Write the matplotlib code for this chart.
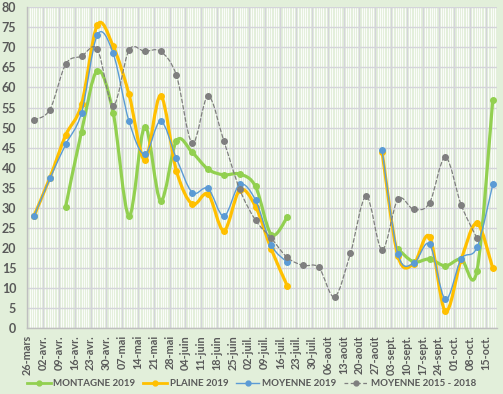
import numpy as np
import matplotlib
matplotlib.use('Agg')
import matplotlib.pyplot as plt
import matplotlib.dates as mdates
from matplotlib.path import Path
from matplotlib.patches import PathPatch
from matplotlib.lines import Line2D

plt.rcParams['font.family'] = ['Lato', 'DejaVu Sans']

# ---------------- data ----------------
tick_labels = ['26-mars', '02-avr.', '09-avr.', '16-avr.', '23-avr.', '30-avr.', '07-mai', '14-mai',
               '21-mai', '28-mai', '04-juin', '11-juin', '18-juin', '25-juin', '02-juil.', '09-juil.',
               '16-juil.', '23-juil.', '30-juil.', '06-août', '13-août', '20-août', '27-août',
               '03-sept.', '10-sept.', '17-sept.', '24-sept.', '01-oct.', '08-oct.', '15-oct.']
first_tick = '2019-03-26'
point_offset_days = 3

montagne = [None, None, 30.3, 49.0, 64.2, 53.7, 28.0, 50.2, 31.8, 46.7, 43.8, 39.6, 38.2, 38.4, 35.3,
            23.3, 27.6, None, None, None, None, None, None, 19.7, 16.5, 17.2, 15.5, 17.2, 14.3, 56.9]
plaine = [28.0, 37.5, 48.1, 55.8, 75.6, 70.3, 58.3, 41.9, 57.9, 39.2, 30.9, 33.4, 24.3, 34.4, 30.3,
          19.6, 10.6, None, None, None, None, None, 44.0, 18.0, 16.0, 22.8, 4.2, 17.0, 26.1, 14.9]
moyenne = [27.9, 37.3, 45.8, 53.7, 73.1, 68.5, 51.6, 43.3, 51.6, 42.3, 33.8, 34.8, 27.9, 35.8, 31.9,
           20.7, 16.4, None, None, None, None, None, 44.4, 18.5, 16.1, 20.9, 7.2, 17.2, 20.1, 35.8]
moyenne_1518 = [51.9, 54.5, 65.8, 67.8, 69.5, 55.5, 69.3, 69.0, 69.0, 63.0, 46.1, 57.8, 46.6, 34.6, 26.9,
                22.4, 17.6, 15.6, 15.1, 7.8, 18.6, 32.9, 19.5, 32.1, 29.6, 31.2, 42.6, 30.7, 22.4, None]

series = [
    ('MONTAGNE 2019', montagne, '#92D050', 2.3, '-'),
    ('PLAINE 2019', plaine, '#FFC000', 2.3, '-'),
    ('MOYENNE 2019', moyenne, '#5B9BD5', 1.0, '-'),
    ('MOYENNE 2015 - 2018', moyenne_1518, '#7F7F7F', 0.9, (0, (3, 2))),
]

# ---------------- figure ----------------
BG = '#E2EFDA'
TXT = '#595959'
fig = plt.figure(figsize=(5.03, 3.94), dpi=100, facecolor=BG)
ax = fig.add_axes([27.3 / 503, 1 - 328 / 394, (497.3 - 27.3) / 503, (328 - 7.3) / 394])
ax.set_facecolor(BG)

tick_dates = np.datetime64(first_tick) + np.arange(len(tick_labels)) * np.timedelta64(7, 'D')
point_dates = tick_dates + np.timedelta64(point_offset_days, 'D')
tx = mdates.date2num(tick_dates.astype('datetime64[D]').astype(object))
px = mdates.date2num(point_dates.astype('datetime64[D]').astype(object))

x0 = tx[0]
x1 = tx[-1] + 5
ax.set_xlim(x0, x1)
ax.set_ylim(0, 80)

# grid
ax.set_xticks(tx)
ax.set_xticks(np.arange(x0, x1 + 0.01, 1.0), minor=True)
ax.set_yticks(np.arange(0, 81, 5))
ax.grid(which='minor', axis='x', color='white', lw=0.8, alpha=0.85, zorder=0)
ax.grid(which='major', axis='x', color='#D4D4DA', lw=1.0, zorder=0.5)
ax.grid(which='major', axis='y', color='#D4D4DA', lw=1.0, zorder=0.5)
ax.set_axisbelow(True)

ax.set_xticklabels(tick_labels, rotation=90, fontsize=7.8, color=TXT, fontweight='bold')
ax.set_yticklabels([str(v) for v in range(0, 81, 5)], fontsize=9, color=TXT, fontweight='bold')
ax.tick_params(axis='both', which='both', length=0)
ax.tick_params(axis='x', pad=5)
ax.tick_params(axis='y', pad=8)
for s in ['top', 'right']:
    ax.spines[s].set_visible(False)
for s in ['left', 'bottom']:
    ax.spines[s].set_color('#BFBFBF')
    ax.spines[s].set_linewidth(1.0)


def smooth_path(xs, ys):
    pts = np.column_stack([xs, ys])
    n = len(pts)
    verts = [pts[0]]
    codes = [Path.MOVETO]
    for i in range(n - 1):
        p0 = pts[i - 1] if i > 0 else pts[i]
        p1 = pts[i]
        p2 = pts[i + 1]
        p3 = pts[i + 2] if i + 2 < n else pts[i + 1]
        c1 = p1 + (p2 - p0) / 6.0
        c2 = p2 - (p3 - p1) / 6.0
        verts += [c1, c2, p2]
        codes += [Path.CURVE4] * 3
    return Path(verts, codes)


handles = []
for z, (name, vals, color, lw, ls) in enumerate(series):
    segs = []
    cur = []
    for xi, v in zip(px, vals):
        if v is None:
            if cur:
                segs.append(cur)
            cur = []
        else:
            cur.append((xi, v))
    if cur:
        segs.append(cur)
    for seg in segs:
        xs = np.array([p[0] for p in seg])
        ys = np.array([p[1] for p in seg])
        if len(seg) > 1:
            patch = PathPatch(smooth_path(xs, ys), fill=False, edgecolor=color, lw=lw,
                              linestyle=ls, zorder=2 + z, capstyle='round', joinstyle='round')
            ax.add_patch(patch)
        ax.plot(xs, ys, linestyle='none', marker='o', ms=4, color=color, zorder=2.5 + z)
    handles.append(Line2D([], [], color=color, lw=lw if lw < 2 else 2.0, linestyle=ls,
                          marker='o', ms=3.5, label=name))

leg = fig.legend(handles=handles, loc='center', bbox_to_anchor=(0.5, 1 - 384 / 394), ncol=4,
                 frameon=False, fontsize=7.0, handlelength=2.4, handletextpad=0.3,
                 columnspacing=0.8, borderaxespad=0, borderpad=0)
for t in leg.get_texts():
    t.set_color(TXT)
    t.set_fontweight('bold')

fig.savefig('out.png', dpi=100, facecolor=BG)
